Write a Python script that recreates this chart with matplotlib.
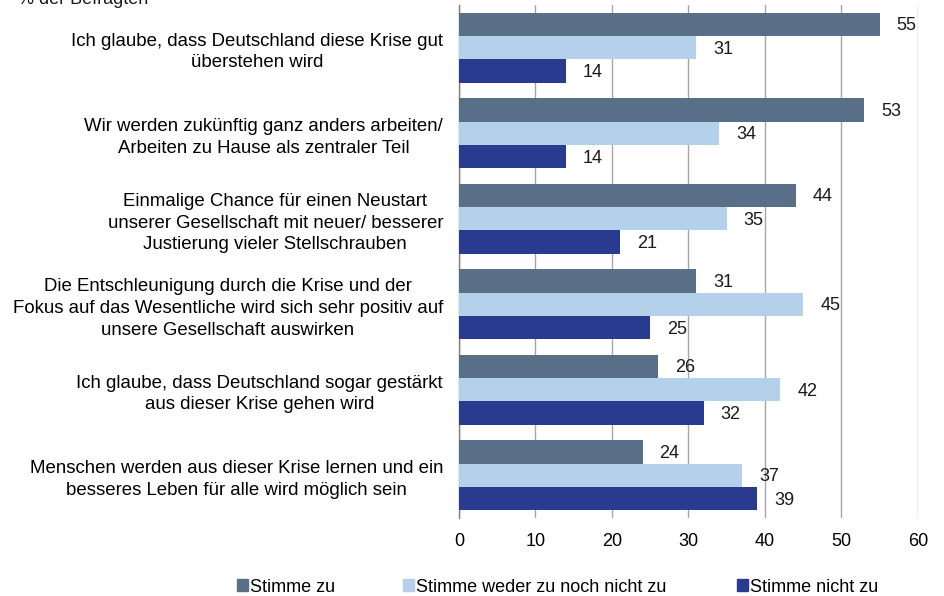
import matplotlib
matplotlib.use("Agg")
import matplotlib.pyplot as plt
import matplotlib.patches as mpatches
import numpy as np

plt.rcParams['font.family'] = ['Liberation Sans', 'DejaVu Sans']

categories = [
    "Ich glaube, dass Deutschland diese Krise gut\nüberstehen wird",
    "Wir werden zukünftig ganz anders arbeiten/\nArbeiten zu Hause als zentraler Teil",
    "Einmalige Chance für einen Neustart\nunserer Gesellschaft mit neuer/ besserer\nJustierung vieler Stellschrauben",
    "Die Entschleunigung durch die Krise und der\nFokus auf das Wesentliche wird sich sehr positiv auf\nunsere Gesellschaft auswirken",
    "Ich glaube, dass Deutschland sogar gestärkt\naus dieser Krise gehen wird",
    "Menschen werden aus dieser Krise lernen und ein\nbesseres Leben für alle wird möglich sein",
]
series_names = ["Stimme zu", "Stimme weder zu noch nicht zu", "Stimme nicht zu"]
stimme_zu = [55, 53, 44, 31, 26, 24]
weder_noch = [31, 34, 35, 45, 42, 37]
nicht_zu = [14, 14, 21, 25, 32, 39]
xticks = [0, 10, 20, 30, 40, 50, 60]
colors = ["#596F88", "#B4D0EA", "#283B8E"]

fig = plt.figure(figsize=(9.45, 5.96), dpi=100)
ax = fig.add_axes([459/945, 1-518/596, (918-459)/945, (518-5)/596])

n = len(categories)
pos = np.arange(n)
bh = 0.273
offsets = [-bh, 0, bh]
fs = 13
for vals, off, c, name in zip([stimme_zu, weder_noch, nicht_zu], offsets, colors, series_names):
    bars = ax.barh(pos + off, vals, height=bh, color=c, label=name, zorder=3)
    for b, v in zip(bars, vals):
        ax.annotate(str(v), (v, b.get_y() + b.get_height()/2), xytext=(17, -1.5),
                    textcoords='offset pixels', ha='left', va='center', fontsize=fs, color='#1a1a1a')

ax.set_ylim(n - 0.5, -0.5)
ax.set_xlim(0, 60)
ax.set_xticks(xticks)
ax.set_xticklabels([str(t) for t in xticks], fontsize=fs)
ax.set_yticks(pos)
ax.set_yticklabels(categories, fontsize=13.4, ha='right', multialignment='center',
                   linespacing=1.36)
ax.tick_params(axis='y', length=0, pad=11.5)
ax.tick_params(axis='x', length=0, pad=11)
ax.grid(axis='x', color='#A6A6A6', linewidth=1, zorder=0)
for s in ['top', 'right', 'bottom']:
    ax.spines[s].set_visible(False)
ax.spines['left'].set_color('#808080')
ax.spines['left'].set_linewidth(1)

fig.text(18/945, 1-4/596, "% der Befragten", fontsize=fs, ha='left', va='baseline', color='#1a1a1a')

legend_x = [237, 403, 737]
for name, c, lx in zip(series_names, colors, legend_x):
    h = mpatches.Patch(color=c, label=name)
    fig.legend(handles=[h], loc='center left', bbox_to_anchor=(lx/945, 1-587/596),
               frameon=False, fontsize=fs, handlelength=0.62, handleheight=0.62,
               handletextpad=0.12, borderaxespad=0, borderpad=0)

fig.savefig("out.png", dpi=100)
